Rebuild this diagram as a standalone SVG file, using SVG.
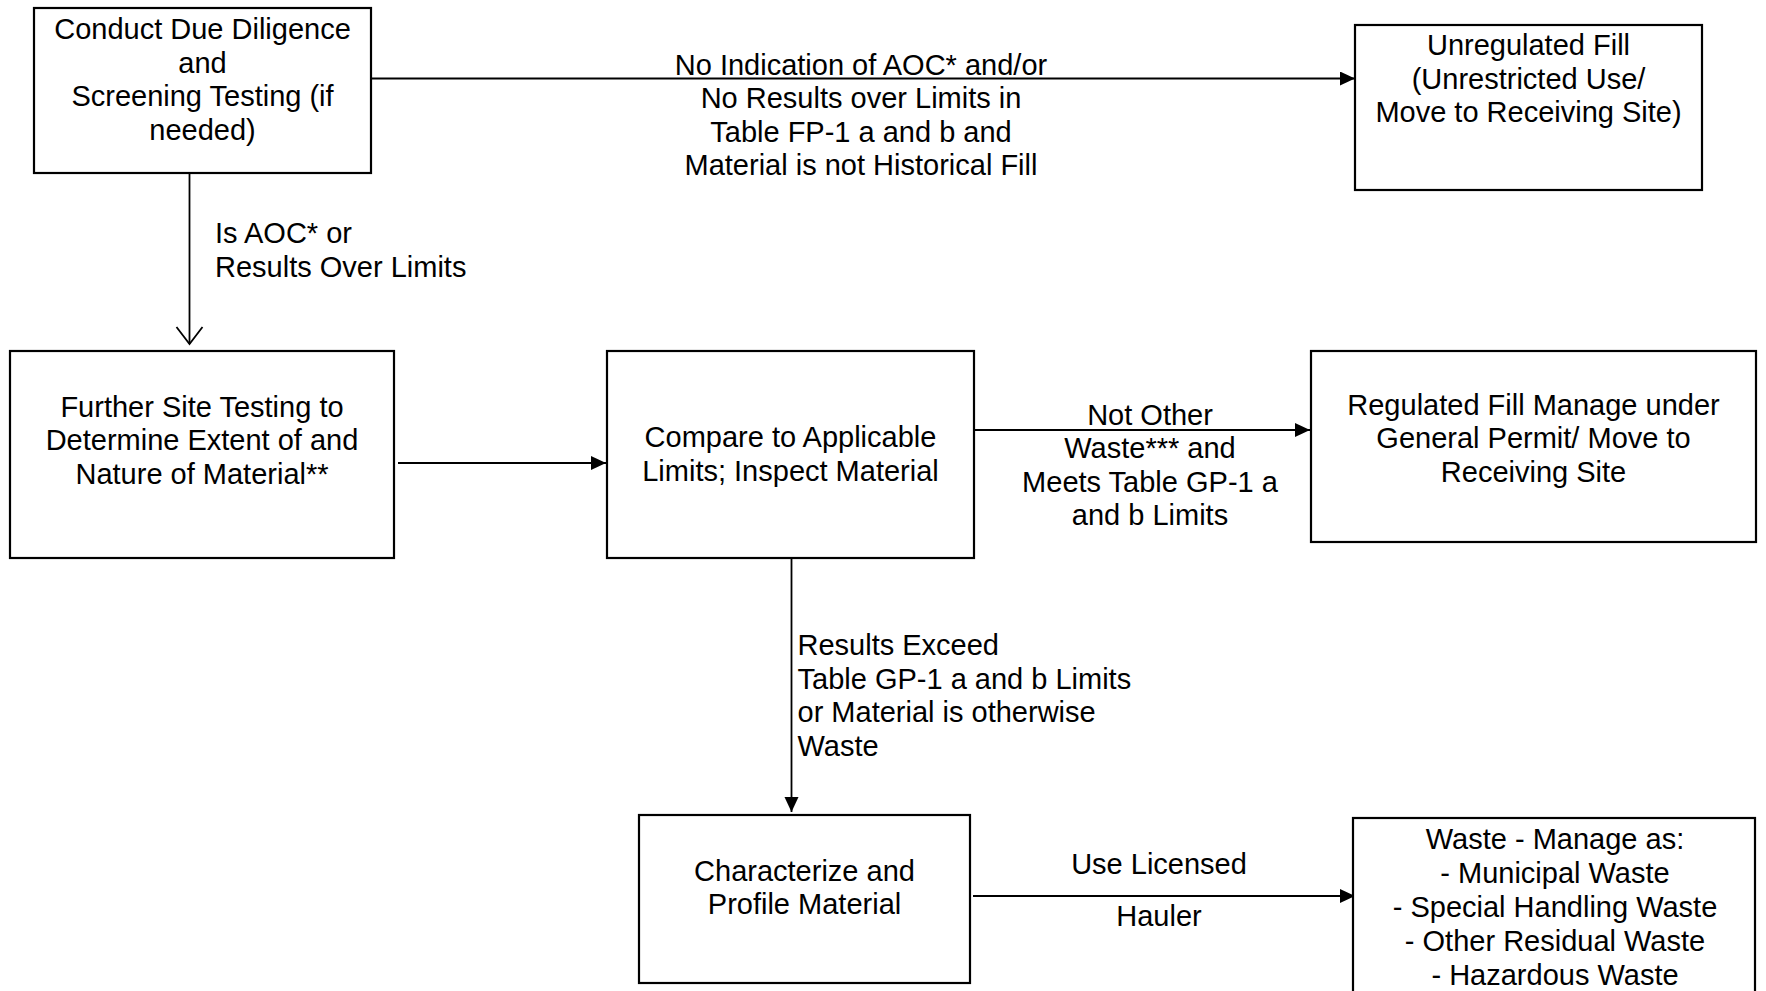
<svg xmlns="http://www.w3.org/2000/svg" width="1766" height="991" viewBox="0 0 1766 991">
  <style>
    .box { fill: #ffffff; stroke: #000000; stroke-width: 2.2; }
    .conn { fill: none; stroke: #000000; stroke-width: 1.8; }
    text { font-family: "Liberation Sans", Arial, sans-serif; font-size: 29px; fill: #000000; }
    .c { text-anchor: middle; }
    .l { text-anchor: start; }
  </style>
  <defs>
    <marker id="arrow" markerUnits="userSpaceOnUse" markerWidth="16" markerHeight="16" refX="15" refY="7" orient="auto">
      <path d="M0,0 L15,7 L0,14 Z" fill="#000000"/>
    </marker>
    <marker id="open" markerUnits="userSpaceOnUse" markerWidth="22" markerHeight="32" refX="18" refY="14" orient="auto">
      <path d="M1,1 L18,14 L1,27" fill="none" stroke="#000000" stroke-width="1.8"/>
    </marker>
  </defs>
  <rect x="0" y="0" width="1766" height="991" fill="#ffffff"/>

  <g id="connectors">
    <line class="conn" x1="366" y1="78.5" x2="1355" y2="78.5" marker-end="url(#arrow)"/>
    <line class="conn" x1="189.5" y1="173" x2="189.5" y2="344" marker-end="url(#open)"/>
    <line class="conn" x1="398" y1="463" x2="606" y2="463" marker-end="url(#arrow)"/>
    <line class="conn" x1="974" y1="430" x2="1310" y2="430" marker-end="url(#arrow)"/>
    <line class="conn" x1="791.5" y1="558" x2="791.5" y2="812" marker-end="url(#arrow)"/>
    <line class="conn" x1="973" y1="896" x2="1355" y2="896" marker-end="url(#arrow)"/>
  </g>

  <g id="labels">
    <g id="label-no-indication">
      <text class="c" x="861" y="74.5">No Indication of AOC* and/or</text>
      <text class="c" x="861" y="108">No Results over Limits in</text>
      <text class="c" x="861" y="141.5">Table FP-1 a and b and</text>
      <text class="c" x="861" y="175">Material is not Historical Fill</text>
    </g>
    <g id="label-is-aoc">
      <text class="l" x="215" y="243">Is AOC* or</text>
      <text class="l" x="215" y="276.5">Results Over Limits</text>
    </g>
    <g id="label-not-other">
      <text class="c" x="1150" y="424.5">Not Other</text>
      <text class="c" x="1150" y="458">Waste*** and</text>
      <text class="c" x="1150" y="491.5">Meets Table GP-1 a</text>
      <text class="c" x="1150" y="525">and b Limits</text>
    </g>
    <g id="label-results-exceed">
      <text class="l" x="797.5" y="655">Results Exceed</text>
      <text class="l" x="797.5" y="688.5">Table GP-1 a and b Limits</text>
      <text class="l" x="797.5" y="722">or Material is otherwise</text>
      <text class="l" x="797.5" y="755.5">Waste</text>
    </g>
    <g id="label-hauler">
      <text class="c" x="1159" y="874">Use Licensed</text>
      <text class="c" x="1159" y="926">Hauler</text>
    </g>
  </g>

  <g id="node-due-diligence">
    <rect class="box" x="34" y="8" width="337" height="165"/>
    <text class="c" x="202.5" y="39">Conduct Due Diligence</text>
    <text class="c" x="202.5" y="72.5">and</text>
    <text class="c" x="202.5" y="106">Screening Testing (if</text>
    <text class="c" x="202.5" y="139.5">needed)</text>
  </g>

  <g id="node-unregulated">
    <rect class="box" x="1355" y="25" width="347" height="165"/>
    <text class="c" x="1528.5" y="55">Unregulated Fill</text>
    <text class="c" x="1528.5" y="88.5">(Unrestricted Use/</text>
    <text class="c" x="1528.5" y="122">Move to Receiving Site)</text>
  </g>

  <g id="node-further-testing">
    <rect class="box" x="10" y="351" width="384" height="207"/>
    <text class="c" x="202" y="416.5">Further Site Testing to</text>
    <text class="c" x="202" y="450">Determine Extent of and</text>
    <text class="c" x="202" y="483.5">Nature of Material**</text>
  </g>

  <g id="node-compare">
    <rect class="box" x="607" y="351" width="367" height="207"/>
    <text class="c" x="790.5" y="447">Compare to Applicable</text>
    <text class="c" x="790.5" y="480.5">Limits; Inspect Material</text>
  </g>

  <g id="node-regulated">
    <rect class="box" x="1311" y="351" width="445" height="191"/>
    <text class="c" x="1533.5" y="414.5">Regulated Fill Manage under</text>
    <text class="c" x="1533.5" y="448">General Permit/ Move to</text>
    <text class="c" x="1533.5" y="481.5">Receiving Site</text>
  </g>

  <g id="node-characterize">
    <rect class="box" x="639" y="815" width="331" height="168"/>
    <text class="c" x="804.5" y="880.5">Characterize and</text>
    <text class="c" x="804.5" y="914">Profile Material</text>
  </g>

  <g id="node-waste">
    <rect class="box" x="1353" y="818" width="402" height="190"/>
    <text class="c" x="1555" y="848.5">Waste - Manage as:</text>
    <text class="c" x="1555" y="882.5">- Municipal Waste</text>
    <text class="c" x="1555" y="916.5">- Special Handling Waste</text>
    <text class="c" x="1555" y="950.5">- Other Residual Waste</text>
    <text class="c" x="1555" y="984.5">- Hazardous Waste</text>
  </g>
</svg>
